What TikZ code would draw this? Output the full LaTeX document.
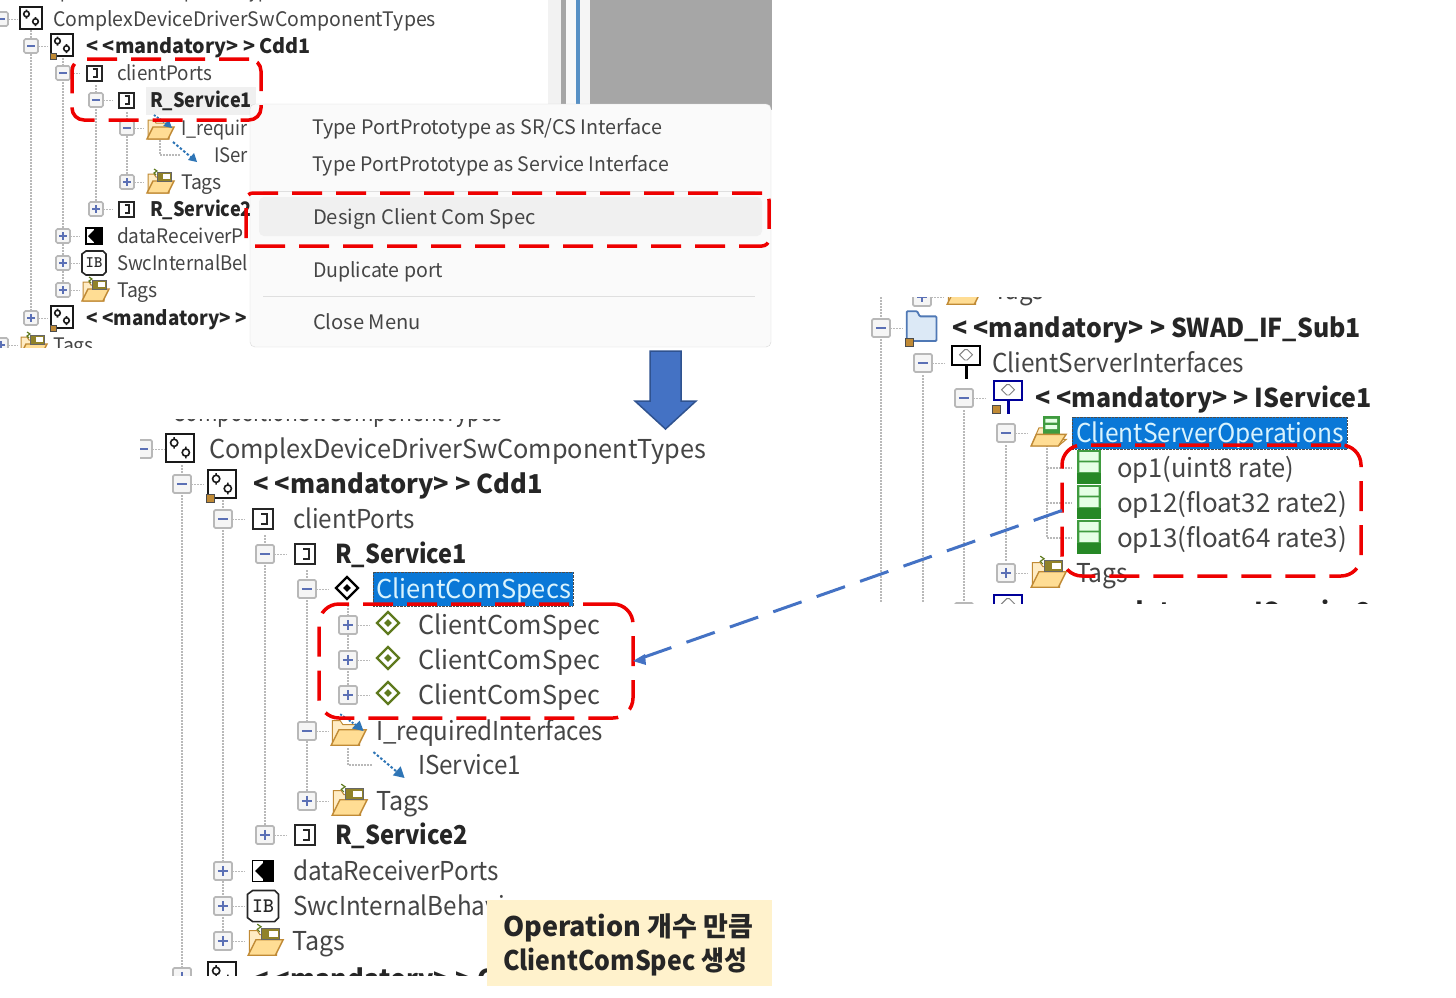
\documentclass[tikz,border=0pt]{standalone}
\usepackage{fontspec}
\usepackage{graphicx}
\newfontfamily\uifont{Noto Sans CJK KR}
\definecolor{txt}{HTML}{454545}
\definecolor{txtb}{HTML}{262626}
\definecolor{redd}{HTML}{EE0000}
\definecolor{bluem}{HTML}{4472C4}
\definecolor{bluedk}{HTML}{2F528F}
\definecolor{selb}{HTML}{0A78D7}
\definecolor{expl}{HTML}{B8B8B8}
\definecolor{expm}{HTML}{5B70B5}
\definecolor{fldf}{HTML}{FFDD94}
\definecolor{fldd}{HTML}{C08A35}
\definecolor{olv}{HTML}{5F7A1E}
\definecolor{grn}{HTML}{3F9B3F}
\definecolor{arrb}{HTML}{2E75B6}
\definecolor{fldb}{HTML}{4F78B5}
\definecolor{fldbf}{HTML}{DCE9F6}
\definecolor{fffcol}{HTML}{FFF2CC}
\tikzset{
  x=1pt,y=-1pt,
  lbl/.style={anchor=base west,inner sep=0pt,outer sep=0pt,text=txt,font=\uifont},
  lblb/.style={lbl,text=txtb,font=\uifont\bfseries},
  dotline/.style={draw=gray!55,line width=1.5pt,dash pattern=on 1.5pt off 1.5pt},
  redbox/.style={draw=redd,line width=3.5pt,dash pattern=on 30pt off 14pt,rectangle,inner sep=0pt,outer sep=0pt},
  linkline/.style={draw=bluem,line width=3pt,dash pattern=on 30pt off 16pt},
}
\newcount\tc
\def\S{1}\def\Fs{20}
% label: style, x, y(row centre), width, text
\newcommand\T[5]{\global\advance\tc by 1
  \node[#1] (t\the\tc) at (#2,{#3+0.36*\Fs}) {\fontsize{\Fs}{\Fs}\selectfont\resizebox{#4pt}{\height}{#5}};}
\newcommand\TB[4]{\global\advance\tc by 1
  \node[lblb] (t\the\tc) at (#1,{#2+0.36*\Fs}) {\fontsize{\Fs}{\Fs}\selectfont\resizebox{#3pt}{\height}{#4}};}
\newcommand\M{<\kern.25em<\hspace{0pt}mandatory>\kern.25em>}
\newcommand\Exp[3]{\begin{scope}[shift={(#1,#2)},scale=\S]
  \draw[dotline,line width=1pt] (7,0) -- (17,0);
  \draw[expl,fill=gray!8,line width=1.7pt,rounded corners=1.5pt] (-7,-7) rectangle (7,7);
  \draw[expm,line width=1.5pt] (-4,0) -- (4,0);
  \ifx#3p\draw[expm,line width=1.5pt] (0,-4) -- (0,4);\fi
  \end{scope}}
\newcommand\Mark{\draw[black!70,fill=fldd,line width=.7pt] (-12,8) rectangle (-6,14);}
\newcommand\Comp[3]{\begin{scope}[shift={(#1,#2)},scale=\S]
  \draw[black!90,fill=white,line width=2pt] (-11,-11) rectangle (11,11);
  \draw[black!90,line width=1.6pt] (-4.5,-4) circle[radius=2.8] (4.5,3.5) circle[radius=2.8]
     (-4.5,-8.5) -- (-4.5,-6.5) (-4.5,-1.4) -- (-4.5,.5) (4.5,-1) -- (4.5,1) (4.5,6) -- (4.5,8);
  \ifx#3m\Mark\fi
  \end{scope}}
\newcommand\Port[2]{\begin{scope}[shift={(#1,#2)},scale=\S]
  \draw[black!85,fill=white,line width=2pt] (-7.5,-7.5) rectangle (7.5,7.5);
  \draw[black!85,line width=1.7pt] (-1.5,-4) -- (3,-4) -- (3,4) -- (-1.5,4);
  \end{scope}}
\newcommand\DataP[2]{\begin{scope}[shift={(#1,#2)},scale=\S]
  \draw[black,fill=white,line width=1.4pt] (-8,-8) rectangle (8,8);
  \fill[black] (0,-8) rectangle (8,8);
  \fill[black] (-6,0) -- (0,-6) -- (0,6) -- cycle;
  \end{scope}}
\newcommand\IB[2]{\global\advance\tc by 1\begin{scope}[shift={(#1,#2)},scale=\S]
  \draw[black!85,fill=white,line width=1.6pt] (-8,-12) -- (9,-12) -- (12,-9) -- (12,9) -- (9,12) -- (-8,12) -- (-12,9) -- (-12,-9) -- cycle;
  \pgfmathsetmacro\ibs{16*\S}
  \node[inner sep=0pt,text=black!85] (ib\the\tc) at (0,0) {\fontsize{\ibs}{\ibs}\selectfont\ttfamily\bfseries IB};
  \end{scope}}
\newcommand\FolderBase{%
  \draw[fldd,fill=fldf!55!white,line width=1pt] (-12,11) -- (-12,-8) -- (-6,-8) -- (-4,-5) -- (9,-5) -- (9,11) -- cycle;
  \draw[fldd,fill=fldf,line width=1.4pt] (-13,11) -- (-7,-1) -- (14,-1) -- (8,11) -- cycle;}
\newcommand\Tagf[2]{\begin{scope}[shift={(#1,#2)},scale=\S]
  \FolderBase
  \draw[black!60,fill=olv!50!fldd,line width=.8pt] (-3,-10) rectangle (11,-1);
  \fill[white] (3,-8) rectangle (10,-3);
  \draw[olv,line width=1.2pt] (-6,-13) -- (-3,-11) -- (-6,-9) -- (-4,-7);
  \end{scope}}
\newcommand\ReqF[2]{\begin{scope}[shift={(#1,#2)},scale=\S]
  \FolderBase
  \draw[arrb,line width=1.8pt,dash pattern=on 2pt off 1.5pt] (-6,-13) -- (7,-4);
  \fill[arrb] (12,0) -- (3,-2) -- (9,-8) -- cycle;
  \end{scope}}
\newcommand\RefA[2]{\begin{scope}[shift={(#1,#2)},scale=\S]
  \draw[arrb,line width=2pt,dash pattern=on 2.5pt off 2pt] (-12,-10) -- (7,6);
  \fill[arrb] (12,10) -- (3,8) -- (9,1) -- cycle;
  \end{scope}}
\newcommand\Dia[3]{\begin{scope}[shift={(#1,#2)},scale=\S]
  \draw[#3,fill=white,line width=2.2pt] (-8.5,0) -- (0,-8.5) -- (8.5,0) -- (0,8.5) -- cycle;
  \fill[#3] (-3,0) -- (0,-3) -- (3,0) -- (0,3) -- cycle;
  \end{scope}}
\newcommand\Op[2]{\begin{scope}[shift={(#1,#2)},scale=\S]
  \fill[grn] (-9,-13) rectangle (9,13);
  \fill[green!10!white] (-7.5,-11.5) rectangle (7.5,-5) (-7.5,-3.5) rectangle (7.5,4);
  \fill[green!45!black!85] (-9,5) rectangle (9,13);
  \end{scope}}
\newcommand\Iface[3]{\begin{scope}[shift={(#1,#2)},scale=\S]
  \draw[#3,line width=3pt] (0,4) -- (0,15);
  \draw[#3,fill=white,line width=2pt] (-11,-11) rectangle (11,4);
  \draw[gray,line width=.9pt] (-5,-4) -- (-1,-8) -- (1,-8) -- (5,-4) -- (1,0) -- (-1,0) -- cycle;
  \end{scope}}
\begin{document}
\begin{tikzpicture}
\useasboundingbox (0,0) rectangle (1456,997);
\fill[white] (0,0) rectangle (1456,997);
% ---- top screenshot
\begin{scope}
\clip (0,0) rectangle (772,347);
\fill[gray!10] (548,0) rectangle (561,110);
\fill[gray!70] (561,0) rectangle (566,110);
\fill[gray!5] (566,0) rectangle (576,110);
\fill[arrb!80] (576,0) rectangle (580,110);
\fill[gray!8] (580,0) rectangle (590,110);
\fill[gray!70] (590,0) rectangle (594,110);
\fill[black!35] (594,0) rectangle (772,110);
\def\S{1}\def\Fs{20}
\draw[dotline] (31,30) -- (31,320) (63,58) -- (63,290) (96,85) -- (96,209) (127,112) -- (127,182) (160,140) -- (160,155) -- (180,155);
\fill[gray!12] (146,87) rectangle (256,115);
\T{lbl}{24}{-10}{262}{CompositionSwComponentTypes}
\Exp{1}{19}{m}\Comp{31}{18}{n}\T{lbl}{53}{19}{383}{ComplexDeviceDriverSwComponentTypes}
\Exp{31}{46}{m}\Comp{62}{45}{m}\TB{86}{46}{225}{\M{} Cdd1}
\Exp{63}{73}{m}\Port{94}{73}\T{lbl}{117}{73}{95}{clientPorts}
\Exp{96}{100}{m}\Port{126}{100}\TB{150}{100}{102}{R\_Service1}
\Exp{127}{128}{m}\ReqF{160}{128}\T{lbl}{181}{128}{66}{I\_requir}
\RefA{185}{152}\T{lbl}{214}{155}{34}{ISer}
\Exp{127}{182}{p}\Tagf{160}{182}\T{lbl}{181}{182}{41}{Tags}
\Exp{96}{209}{p}\Port{126}{209}\TB{150}{209}{102}{R\_Service2}
\Exp{63}{236}{p}\DataP{94}{236}\T{lbl}{117}{236}{127}{dataReceiverP}
\Exp{63}{263}{p}\IB{94}{263}\T{lbl}{117}{263}{131}{SwcInternalBel}
\Exp{63}{290}{p}\Tagf{95}{290}\T{lbl}{117}{290}{41}{Tags}
\Exp{31}{318}{p}\Comp{62}{317}{m}\TB{86}{318}{161}{\M}
\Exp{1}{345}{p}\Tagf{33}{345}\T{lbl}{53}{345}{41}{Tags}
\end{scope}
% menu
\node[draw=gray!30,fill=gray!4,rectangle,rounded corners=5pt,minimum width=521pt,minimum height=243pt,inner sep=0pt] (menu) at (510.5,225.5) {};
\node[fill=gray!12,rectangle,rounded corners=5pt,minimum width=503pt,minimum height=39pt,inner sep=0pt] (menuhi) at (510.5,216.5) {};
\coordinate (sepl) at (263,296); \coordinate (sepr) at (755,296);
\draw[gray!25,line width=1pt] (sepl) -- (sepr);
\coordinate (sepa) at (263,191); \coordinate (sepb) at (755,191);
\draw[gray!25,line width=1pt] (sepa) -- (sepb);
\def\Fs{20}
\T{lbl}{312}{127}{350}{Type PortPrototype as SR/CS Interface}
\T{lbl}{312}{164}{357}{Type PortPrototype as Service Interface}
\T{lbl}{313}{217}{223}{Design Client Com Spec}
\T{lbl}{313}{270}{130}{Duplicate port}
\T{lbl}{313}{322}{108}{Close Menu}
% big arrow
\draw[bluedk,fill=bluem,line width=1.5pt,line join=miter] (650,351) -- (681,351) -- (681,401) -- (696,401) -- (665.5,429) -- (635,401) -- (650,401) -- cycle;
% ---- lower screenshot
\begin{scope}
\clip (140,419) rectangle (772,975);
\def\S{1.295}\def\Fs{26}
\draw[dotline] (182,465) -- (182,975) (223,500) -- (223,941) (265,535) -- (265,835) (307,570) -- (307,801) (348,605) -- (348,695) (348,748) -- (348,765) -- (372,765);
\T{lbl}{172}{412}{330}{CompositionSwComponentTypes}
\Exp{143}{449}{m}\Comp{180}{448}{n}\T{lbl}{209}{449}{497}{ComplexDeviceDriverSwComponentTypes}
\Exp{182}{484}{m}\Comp{222}{484}{m}\TB{253}{484}{290}{\M{} Cdd1}
\Exp{223}{519}{m}\Port{263}{519}\T{lbl}{293}{519}{122}{clientPorts}
\Exp{265}{554}{m}\Port{305}{554}\TB{335}{554}{132}{R\_Service1}
\Exp{307}{589}{m}\Dia{347}{588}{black}
\node[fill=selb,draw=black!70,densely dotted,rectangle,minimum width=200pt,minimum height=34pt,inner sep=0pt] (sela) at (473,589) {};
\T{lbl,text=white!85!cyan}{376}{589}{195}{ClientComSpecs}
\Exp{348}{625}{p}\Dia{388}{623}{olv}\T{lbl}{418}{625}{182}{ClientComSpec}
\Exp{348}{660}{p}\Dia{388}{658}{olv}\T{lbl}{418}{660}{182}{ClientComSpec}
\Exp{348}{695}{p}\Dia{388}{693}{olv}\T{lbl}{418}{695}{182}{ClientComSpec}
\Exp{307}{731}{m}\ReqF{348}{731}\T{lbl}{376}{731}{227}{I\_requiredInterfaces}
\RefA{389}{765}\T{lbl}{418}{765}{103}{IService1}
\Exp{307}{801}{p}\Tagf{349}{801}\T{lbl}{376}{801}{53}{Tags}
\Exp{265}{835}{p}\Port{305}{835}\TB{335}{835}{133}{R\_Service2}
\Exp{223}{871}{p}\DataP{263}{871}\T{lbl}{293}{871}{206}{dataReceiverPorts}
\Exp{223}{906}{p}\IB{263}{906}\T{lbl}{293}{906}{247}{SwcInternalBehaviors}
\Exp{223}{941}{p}\Tagf{265}{941}\T{lbl}{292}{941}{53}{Tags}
\Exp{182}{977}{p}\Comp{222}{976}{m}\TB{253}{979}{241}{\M{} C}
\end{scope}
% yellow note
\node[fill=fffcol,rectangle,minimum width=285pt,minimum height=86pt,inner sep=0pt] (note) at (629.5,943) {};
\def\Fs{27}
\TB{503}{927}{250}{Operation 개수 만큼}
\TB{503}{961}{244}{ClientComSpec 생성}
% ---- right screenshot
\begin{scope}
\clip (870,297) rectangle (1400,603);
\def\S{1.295}\def\Fs{26}
\draw[dotline] (881,297) -- (881,603) (923,375) -- (923,603) (964,410) -- (964,603) (1006,445) -- (1006,562) (1047,445) -- (1047,538)
  (1047,468) -- (1072,468) (1047,503) -- (1072,503) (1047,538) -- (1072,538);
\Exp{922}{297}{p}\Tagf{964}{290}\T{lbl}{993}{290}{51}{Tags}
\Exp{881}{328}{m}
\begin{scope}[shift={(921,328)},scale=1.295]
 \draw[fldb,fill=fldbf,line width=1.8pt,rounded corners=1pt] (-11,-9) -- (-11,-13) -- (-3,-13) -- (-1,-9) -- (12,-9) -- (12,10) -- (-11,10) -- cycle;
 \Mark
\end{scope}
\TB{952}{328}{409}{\M{} SWAD\_IF\_Sub1}
\Exp{923}{363}{m}\Iface{966}{360}{black}\T{lbl}{992}{363}{252}{ClientServerInterfaces}
\Exp{964}{398}{m}\Iface{1008}{395}{blue!60!black}
\begin{scope}[shift={(1008,395)},scale=1.295]\Mark\end{scope}
\TB{1035}{398}{337}{\M{} IService1}
\Exp{1006}{433}{m}
\begin{scope}[shift={(1048,433)},scale=1.295]
 \draw[fldd,fill=fldf!60!white,line width=1pt] (-13,10) -- (-7,-4) -- (-2,-4) -- (-2,5) -- (14,5) -- (8,10) -- cycle;
 \fill[grn] (-4,-13) rectangle (9,3);
 \fill[green!10!white] (-2,-11) rectangle (7,-8) (-2,-6) rectangle (7,-3);
 \draw[fldd,fill=fldf,line width=1.4pt] (-13,10) -- (-9,1) -- (14,1) -- (8,10) -- cycle;
\end{scope}
\node[fill=selb,draw=black!70,densely dotted,rectangle,minimum width=275pt,minimum height=32pt,inner sep=0pt] (selb) at (1209.5,433) {};
\T{lbl,text=white!85!cyan}{1076}{433}{268}{ClientServerOperations}
\Op{1089}{467}\T{lbl}{1117}{468}{177}{op1(uint8 rate)}
\Op{1089}{502}\T{lbl}{1117}{503}{230}{op12(float32 rate2)}
\Op{1089}{537}\T{lbl}{1117}{538}{230}{op13(float64 rate3)}
\Exp{1006}{573}{p}\Tagf{1048}{573}\T{lbl}{1076}{573}{52}{Tags}
\Exp{964}{612}{p}\Iface{1008}{609}{blue!60!black}\TB{1035}{612}{337}{\M{} IService2}
\end{scope}
% red dashed call-outs
\node[redbox,rounded corners=12pt,minimum width=189pt,minimum height=61pt] (boxA) at (166.5,89.5) {};
\node[redbox,rounded corners=7pt,minimum width=523pt,minimum height=53pt] (boxB) at (507.5,219.5) {};
\node[redbox,rounded corners=20pt,minimum width=299pt,minimum height=131pt] (boxC) at (1211.5,510.5) {};
\node[redbox,rounded corners=20pt,minimum width=314pt,minimum height=114pt] (boxD) at (476,661) {};
% link
\draw[linkline] (boxC.west) -- (boxD.east);
\fill[bluem] (boxD.east) -- ++(12,-7) -- ++(1,11) -- cycle;
\end{tikzpicture}
\end{document}
